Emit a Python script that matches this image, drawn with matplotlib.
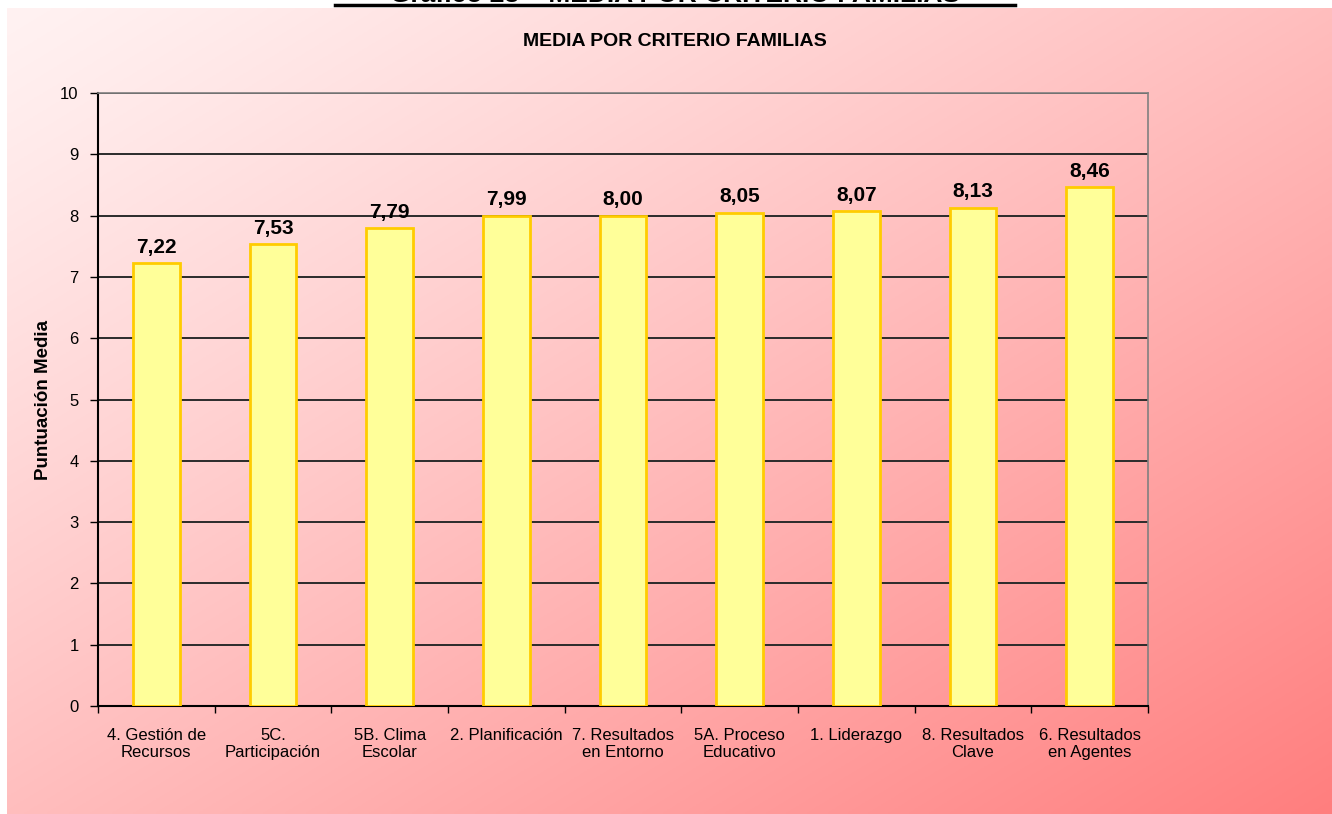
import matplotlib.pyplot as plt
import numpy as np

categories = ["4. Gestión de\nRecursos", "5C.\nParticipación", "5B. Clima\nEscolar",
              "2. Planificación", "7. Resultados\nen Entorno", "5A. Proceso\nEducativo",
              "1. Liderazgo", "8. Resultados\nClave", "6. Resultados\nen Agentes"]
values = [7.22, 7.53, 7.79, 7.99, 8.00, 8.05, 8.07, 8.13, 8.46]

plt.rcParams["font.family"] = ["Liberation Sans", "DejaVu Sans"]

W, H = 1332, 814
fig = plt.figure(figsize=(W / 100, H / 100), dpi=100)

# gradient background panel (light pink top-left -> salmon bottom-right)
bg = fig.add_axes([7 / W, 0, 1 - 7 / W, (H - 8) / H], zorder=0)
gx, gy = np.meshgrid(np.linspace(0, 1, 400), np.linspace(0, 1, 300))
t = np.clip((gx + gy) / 2, 0, 1) ** 1.15
c0 = np.array([255, 242, 242]) / 255
c1 = np.array([255, 126, 126]) / 255
img = c0 + (c1 - c0) * t[..., None]
bg.imshow(img, aspect="auto", extent=[0, 1, 1, 0])
bg.set_axis_off()

# cut-off page heading above the chart
fig.text(675 / W, 1 - 1.6 / H, "Gráfico 28 – MEDIA POR CRITERIO FAMILIAS", ha="center",
         va="baseline", fontsize=19, fontweight="bold", color="black")
fig.add_artist(plt.Line2D([335 / W, 1015 / W], [1 - 4.5 / H, 1 - 4.5 / H],
                          color="black", linewidth=2.5, transform=fig.transFigure))

ax = fig.add_axes([98 / W, (H - 706) / H, 1050 / W, 613 / H], zorder=1)
ax.patch.set_alpha(0)

x = np.arange(len(values))
ax.bar(x, values, width=0.4, color="#FFFF99", edgecolor="#FFCC00", linewidth=2, zorder=3)
for xi, v in zip(x, values):
    ax.text(xi, v + 0.11, f"{v:.2f}".replace(".", ","), ha="center", va="bottom",
            fontsize=15, fontweight="bold", color="black", zorder=4)

ax.set_xlim(-0.5, len(values) - 0.5)
ax.set_ylim(0, 10)
ax.set_yticks(range(0, 11))
ax.yaxis.grid(True, color="#2b2b2b", linewidth=1.4, zorder=1)
ax.set_axisbelow(True)

ax.set_xticks(np.arange(-0.5, len(values), 1.0))
ax.set_xticklabels([])
ax.set_xticks(x, minor=True)
ax.set_xticklabels(categories, minor=True, fontsize=12, linespacing=1.15)
ax.tick_params(axis="x", which="major", length=5, width=1, direction="out", color="black")
ax.tick_params(axis="x", which="minor", length=0, pad=16)
ax.tick_params(axis="y", length=6, width=1, direction="out", labelsize=12, pad=8)

for s in ["top", "right"]:
    ax.spines[s].set_color("#808080")
    ax.spines[s].set_linewidth(1.2)
for s in ["left", "bottom"]:
    ax.spines[s].set_color("black")
    ax.spines[s].set_linewidth(1.5)

ax.set_ylabel("Puntuación Media", fontsize=13.5, fontweight="bold", labelpad=6)
fig.text(675 / W, 1 - 42 / H, "MEDIA POR CRITERIO FAMILIAS", ha="center", va="center",
         fontsize=14, fontweight="bold", color="black")

fig.savefig("out.png", dpi=100)
